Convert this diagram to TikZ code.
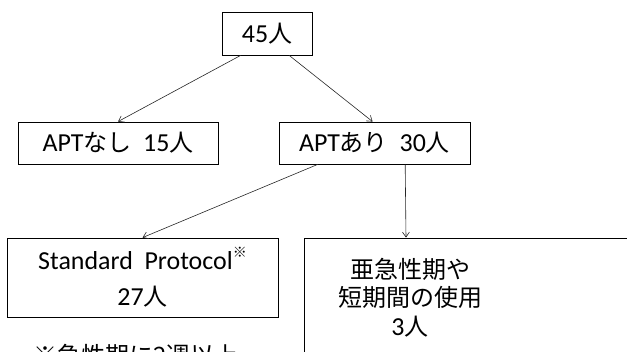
\documentclass[tikz,border=0pt]{standalone}
\usepackage{fontspec}
\setmainfont[Scale=1.08]{Carlito}
\newfontfamily\jp{Noto Sans CJK JP}
\usetikzlibrary{arrows.meta,calc}
\tikzset{
  box/.style={draw=black, line width=0.8pt, rectangle, inner sep=0pt},
  txt/.style={font=\fontsize{24}{36}\selectfont, align=center, inner sep=0pt},
  conn/.style={draw=black!85, line width=0.6pt, -{Straight Barb[length=5pt,width=7pt]}}
}
\begin{document}
\begin{tikzpicture}[x=1pt,y=-1pt]
\useasboundingbox (0,0) rectangle (627,352);
\clip (0,0) rectangle (627,352);
\node[box, minimum width=90pt, minimum height=43pt, txt] (top) at (267,33.5) {45{\jp 人}};
\node[box, minimum width=200pt, minimum height=42pt, txt] (nashi) at (118,143) {APT{\jp なし}\ \ 15{\jp 人}};
\node[box, minimum width=191pt, minimum height=42pt, txt] (ari) at (374.5,143) {APT{\jp あり}\ \ 30{\jp 人}};
\node[box, minimum width=271pt, minimum height=79pt, txt] (std) at (142.5,277.5)
  {Standard\ \ Protocol\raisebox{0.45em}{\fontsize{14}{14}\selectfont\jp ※}\\27{\jp 人}};
\node[box, minimum width=356pt, minimum height=182pt] (sub) at (482,329) {};
\node[txt, font=\fontsize{24}{28.5}\selectfont] (subtxt) at (410,297.5)
  {{\jp 亜急性期や}\\{\jp 短期間の使用}\\3{\jp 人}};
\node[txt, anchor=base west] (note) at (33,365) {\jp ※急性期に2週以上};
\draw[conn] ($(top.south west)!0.21!(top.south east)$) -- (nashi.north);
\draw[conn] ($(top.south west)!0.744!(top.south east)$) -- ($(ari.north west)!0.49!(ari.north east)$);
\draw[conn] ($(ari.south west)!0.204!(ari.south east)$) -- (std.north);
\draw[conn] ($(ari.south west)!0.66!(ari.south east)$) -- ($(sub.north west)!0.287!(sub.north east)$);
\end{tikzpicture}
\end{document}
